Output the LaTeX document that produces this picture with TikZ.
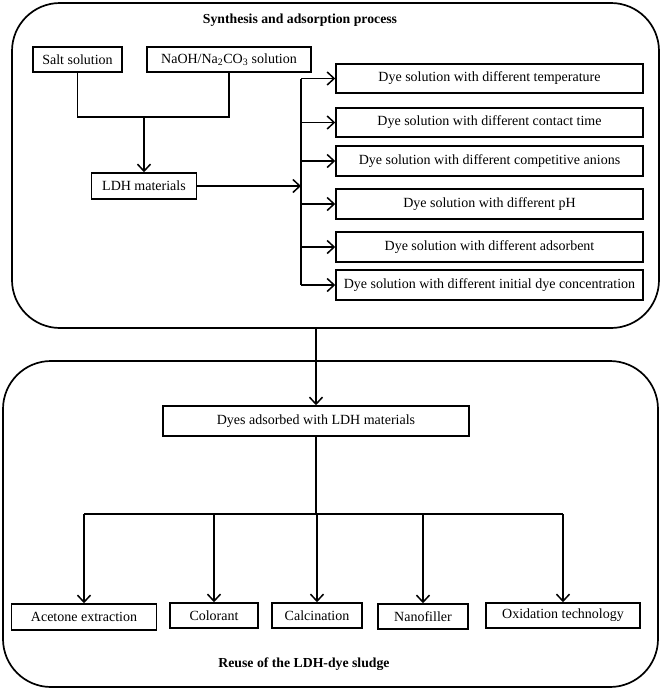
\documentclass[tikz,border=0pt]{standalone}
\usepackage{fontspec}
\setmainfont{Liberation Serif}
\usetikzlibrary{arrows.meta}
\tikzset{
  box/.style={draw, line width=1.5pt, inner sep=0pt, font=\fontsize{14}{16}\selectfont},
  frame/.style={draw, line width=1.7pt, rounded corners=48pt, inner sep=0pt},
  ttl/.style={font=\fontsize{13.75}{16}\selectfont\bfseries, inner sep=0pt},
  conn/.style={line width=1.5pt},
  arr/.style={line width=1.5pt, -{Straight Barb[length=7pt,width=13pt,line width=1.5pt]}}
}
\begin{document}
\begin{tikzpicture}[x=1pt,y=-1pt]
\useasboundingbox (0,0) rectangle (663,691);
% frames
\node[frame, minimum width=647pt, minimum height=325pt] (top) at (335.5,165.5) {};
\node[frame, minimum width=655pt, minimum height=326pt] (bot) at (330.5,524) {};
\node[ttl] (t1) at (300,20) {Synthesis and adsorption process};
\node[ttl] (t2) at (304,664) {Reuse of the LDH-dye sludge};
% top left
\node[box, minimum width=89pt, minimum height=25pt] (salt) at (77.5,59.5) {Salt solution};
\node[box, minimum width=164pt, minimum height=25pt] (naoh) at (229,59.5) {NaOH/Na\textsubscript{2}CO\textsubscript{3} solution};
\node[box, minimum width=105pt, minimum height=26pt] (ldh) at (144,186) {LDH materials};
\coordinate (j) at (144,117);
\draw[conn] (salt.south) |- (naoh.south |- j) -- (naoh.south);
\draw[arr] (j) -- (ldh.north);
% right column
\coordinate (bus) at (301,0);
\node[box, minimum width=307pt, minimum height=29pt] (d1) at (489.5,78.5) {Dye solution with different temperature};
\node[box, minimum width=307pt, minimum height=29pt] (d2) at (489.5,122.5) {Dye solution with different contact time};
\node[box, minimum width=307pt, minimum height=30pt] (d3) at (489.5,161) {Dye solution with different competitive anions};
\node[box, minimum width=307pt, minimum height=30pt] (d4) at (489.5,204) {Dye solution with different pH};
\node[box, minimum width=307pt, minimum height=30pt] (d5) at (489.5,247) {Dye solution with different adsorbent};
\node[box, minimum width=307pt, minimum height=30pt] (d6) at (489.5,285) {Dye solution with different initial dye concentration};
\draw[conn] (d1.west -| bus) -- (d6.west -| bus);
\foreach \n in {d1,d2,d3,d4,d5,d6} {\draw[arr] (\n.west -| bus) -- (\n.west);}
\draw[arr] (ldh.east) -- (ldh.east -| bus);
% bottom
\node[box, minimum width=306pt, minimum height=30pt] (dyes) at (316,421) {Dyes adsorbed with LDH materials};
\draw[arr] (top.south -| dyes.north) -- (dyes.north);
\node[box, minimum width=145pt, minimum height=26pt] (ace) at (84,617) {Acetone extraction};
\node[box, minimum width=88pt, minimum height=25pt] (col) at (214,615.5) {Colorant};
\node[box, minimum width=90pt, minimum height=25pt] (cal) at (317,615.5) {Calcination};
\node[box, minimum width=90pt, minimum height=25pt] (nan) at (423,616.5) {Nanofiller};
\node[box, minimum width=154pt, minimum height=25pt] (oxi) at (563,615.5) {Oxidation technology};
\coordinate (hb) at (0,514);
\draw[conn] (dyes.south) -- (dyes.south |- hb);
\draw[conn] (ace.north |- hb) -- (oxi.north |- hb);
\foreach \n in {ace,col,cal,nan,oxi} {\draw[arr] (\n.north |- hb) -- (\n.north);}
\end{tikzpicture}
\end{document}
